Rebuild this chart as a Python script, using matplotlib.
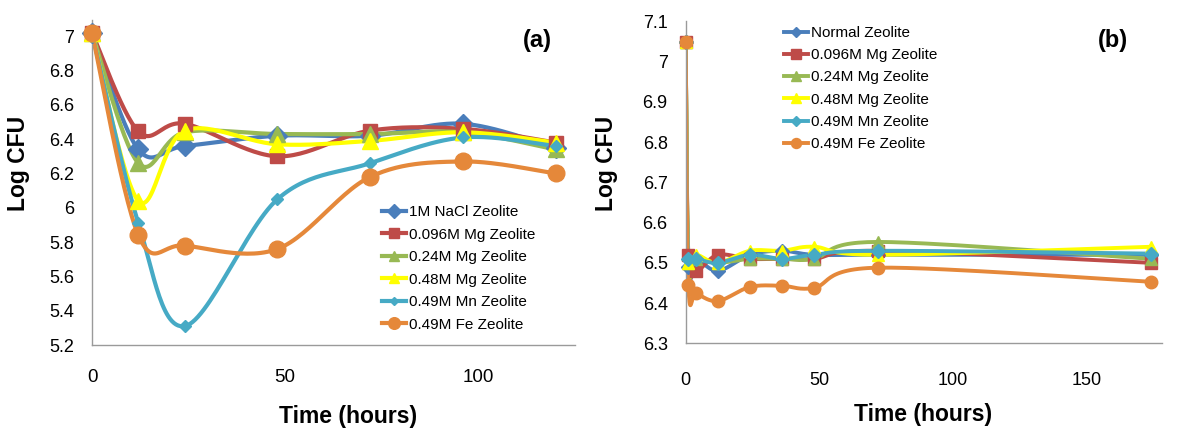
import numpy as np
import matplotlib
matplotlib.use('Agg')
import matplotlib.pyplot as plt

plt.rcParams['font.family'] = ['Liberation Sans', 'DejaVu Sans']

# panel (a) data
time_a = [0, 12, 24, 48, 72, 96, 120]
nacl_a = [7.02, 6.34, 6.36, 6.42, 6.42, 6.49, 6.35]
mg096_a = [7.02, 6.445, 6.49, 6.30, 6.45, 6.46, 6.38]
mg024_a = [7.02, 6.26, 6.44, 6.43, 6.43, 6.44, 6.34]
mg048_a = [7.02, 6.04, 6.45, 6.37, 6.39, 6.44, 6.38]
mn049_a = [7.02, 5.91, 5.31, 6.05, 6.26, 6.41, 6.36]
fe049_a = [7.02, 5.84, 5.78, 5.76, 6.18, 6.27, 6.20]
labels_a = ['1M NaCl Zeolite', '0.096M Mg Zeolite', '0.24M Mg Zeolite',
            '0.48M Mg Zeolite', '0.49M Mn Zeolite', '0.49M Fe Zeolite']

# panel (b) data
time_b = [0, 1, 4, 12, 24, 36, 48, 72, 174]
normal_b = [7.05, 6.49, 6.51, 6.48, 6.52, 6.53, 6.52, 6.52, 6.52]
mg096_b = [7.05, 6.52, 6.48, 6.52, 6.51, 6.51, 6.51, 6.53, 6.50]
mg024_b = [7.05, 6.50, 6.51, 6.50, 6.51, 6.51, 6.51, 6.552, 6.51]
mg048_b = [7.05, 6.50, 6.52, 6.50, 6.53, 6.53, 6.54, 6.52, 6.54]
mn049_b = [7.05, 6.51, 6.51, 6.50, 6.52, 6.51, 6.52, 6.53, 6.523]
fe049_b = [7.05, 6.445, 6.425, 6.405, 6.44, 6.443, 6.438, 6.488, 6.453]
labels_b = ['Normal Zeolite', '0.096M Mg Zeolite', '0.24M Mg Zeolite',
            '0.48M Mg Zeolite', '0.49M Mn Zeolite', '0.49M Fe Zeolite']

colors = ['#4A7EBB', '#BE4B48', '#98B954', '#FFFF00', '#46AAC5', '#E5883A']
markers = ['D', 's', '^', '^', 'D', 'o']
msize_a = [10, 10, 11, 11, 6, 12]
msize_b = [7, 9, 8.5, 8.5, 7, 9]

W, H = 1177, 430


def smooth(ax, x, y, n=30):
    # excel-like smoothed line, done in screen space
    pts = ax.transData.transform(np.column_stack([x, y]))
    p = np.vstack([pts[0], pts, pts[-1]])
    t = np.linspace(0, 1, n)[:, None]
    out = []
    for i in range(1, len(p) - 2):
        p0, p1, p2, p3 = p[i - 1], p[i], p[i + 1], p[i + 2]
        c1 = p1 + (p2 - p0) / 6
        c2 = p2 - (p3 - p1) / 6
        seg = (1 - t) ** 3 * p1 + 3 * (1 - t) ** 2 * t * c1 + 3 * (1 - t) * t ** 2 * c2 + t ** 3 * p2
        out.append(seg)
    return ax.transData.inverted().transform(np.vstack(out))


def style_axes(ax):
    for s in ['top', 'right']:
        ax.spines[s].set_visible(False)
    for s in ['left', 'bottom']:
        ax.spines[s].set_color('#9a9a9a')
        ax.spines[s].set_linewidth(1.0)
    ax.tick_params(length=0)


fig = plt.figure(figsize=(W / 100, H / 100), dpi=100)
ax_a = fig.add_axes([92 / W, 1 - 345 / H, (575 - 92) / W, (345 - 19.6) / H])
ax_b = fig.add_axes([685.7 / W, 1 - 343.3 / H, (1161.7 - 685.7) / W, (343.3 - 21.5) / H])

# ---- panel (a)
ax_a.set_xlim(0, 125)
ax_a.set_ylim(5.2, 7.097)
style_axes(ax_a)
ax_a.set_xticks([0, 50, 100])
yt = np.round(np.arange(5.2, 7.01, 0.2), 1)
ax_a.set_yticks(yt)
ax_a.set_yticklabels([f'{v:g}' for v in yt])
ax_a.tick_params(axis='x', labelsize=13.5, pad=17)
ax_a.tick_params(axis='y', labelsize=13, pad=13)

series_a = [nacl_a, mg096_a, mg024_a, mg048_a, mn049_a, fe049_a]
handles = []
for vals, c, m, ms, lab in zip(series_a, colors, markers, msize_a, labels_a):
    cx, cy = smooth(ax_a, time_a, vals).T
    ax_a.plot(cx, cy, color=c, lw=3, solid_capstyle='round', zorder=2)
    ax_a.plot(time_a, vals, ls='none', marker=m, ms=ms, color=c, mec=c, zorder=3, clip_on=False)
    h, = ax_a.plot([], [], color=c, lw=3, marker=m, ms=ms * 0.7, mec=c, label=lab)
    handles.append(h)
ax_a.legend(handles=handles, loc='upper left', bbox_to_anchor=(382 / W, 1 - 205 / H),
            bbox_transform=fig.transFigure, frameon=False, fontsize=11,
            handlelength=1.6, handletextpad=0.15, labelspacing=0.56, borderpad=0, borderaxespad=0)
fig.text(537 / W, 1 - 40 / H, '(a)', fontsize=17, fontweight='bold', ha='center', va='center')
fig.text(348 / W, 1 - 417 / H, 'Time (hours)', fontsize=16.5, fontweight='bold', ha='center', va='center')
fig.text(19 / W, 1 - 163 / H, 'Log CFU', fontsize=16.5, fontweight='bold', ha='center', va='center',
         rotation=90)

# ---- panel (b)
ax_b.set_xlim(0, 178)
ax_b.set_ylim(6.3, 7.1)
style_axes(ax_b)
ax_b.set_xticks([0, 50, 100, 150])
yt = np.round(np.arange(6.3, 7.11, 0.1), 1)
ax_b.set_yticks(yt)
ax_b.set_yticklabels([f'{v:g}' for v in yt])
ax_b.tick_params(axis='x', labelsize=13, pad=21)
ax_b.tick_params(axis='y', labelsize=13, pad=13)

series_b = [normal_b, mg096_b, mg024_b, mg048_b, mn049_b, fe049_b]
handles = []
for vals, c, m, ms, lab in zip(series_b, colors, markers, msize_b, labels_b):
    cx, cy = smooth(ax_b, time_b, vals).T
    ax_b.plot(cx, cy, color=c, lw=2.8, solid_capstyle='round', zorder=2)
    ax_b.plot(time_b, vals, ls='none', marker=m, ms=ms, color=c, mec=c, zorder=3, clip_on=False)
    h, = ax_b.plot([], [], color=c, lw=2.8, marker=m, ms=ms * 0.8, mec=c, label=lab)
    handles.append(h)
ax_b.legend(handles=handles, loc='upper left', bbox_to_anchor=(784 / W, 1 - 26 / H),
            bbox_transform=fig.transFigure, frameon=False, fontsize=11,
            handlelength=1.6, handletextpad=0.15, labelspacing=0.54, borderpad=0, borderaxespad=0)
fig.text(1113 / W, 1 - 40 / H, '(b)', fontsize=17, fontweight='bold', ha='center', va='center')
fig.text(923 / W, 1 - 415 / H, 'Time (hours)', fontsize=16.5, fontweight='bold', ha='center', va='center')
fig.text(607 / W, 1 - 163 / H, 'Log CFU', fontsize=16.5, fontweight='bold', ha='center', va='center',
         rotation=90)

fig.savefig('out.png', dpi=100)
